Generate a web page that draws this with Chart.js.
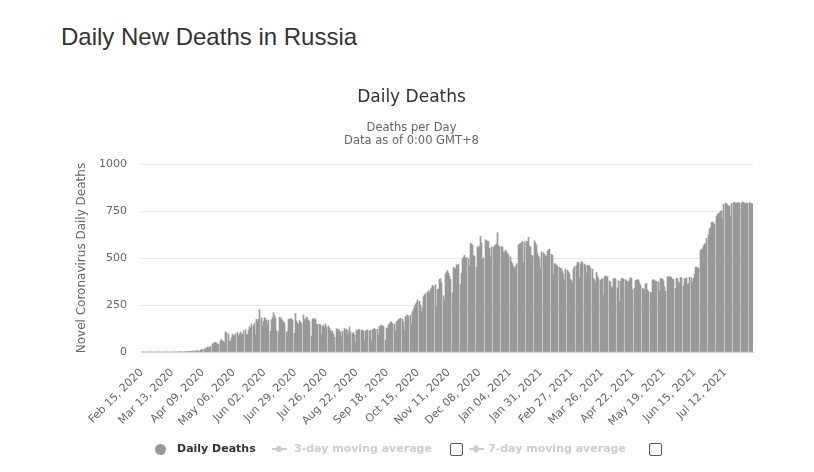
<!DOCTYPE html>
<html>
<head>
<meta charset="utf-8">
<title>Daily New Deaths in Russia</title>
<script src="https://cdn.jsdelivr.net/npm/chart.js@4.4.1/dist/chart.umd.min.js"></script>
<style>
  html, body { margin: 0; padding: 0; background: #fff; }
  #page { position: relative; width: 814px; height: 472px; overflow: hidden; }
  #pageTitle { position: absolute; left: 61px; top: 25px; font: 24px "Liberation Sans", Arial, sans-serif; line-height: 24px; color: #333; white-space: nowrap; }
  #chart { position: absolute; left: 0; top: 0; }
  .lg { position: absolute; top: 442px; font: bold 11px "DejaVu Sans", sans-serif; line-height: 14px; white-space: nowrap; }
  .off { color: #ccc; }
  .dot { position: absolute; left: 155px; top: 444px; width: 11px; height: 11px; border-radius: 50%; background: #999; }
  .ln { position: absolute; top: 448px; width: 15px; height: 2px; background: #ccc; }
  .mk { position: absolute; width: 6px; height: 6px; background: #ccc; }
  .box { position: absolute; top: 443px; width: 11px; height: 11px; border: 1px solid #555; border-radius: 2px; background: #fff; }
</style>
</head>
<body>
<div id="page">
  <div id="pageTitle">Daily New Deaths in Russia</div>
  <canvas id="chart" width="814" height="472"></canvas>

  <!-- legend -->
  <div class="dot"></div>
  <div class="lg" style="left:177px;color:#333;">Daily Deaths</div>
  <div class="ln" style="left:272px;"></div>
  <div class="mk" style="left:276px;top:446px;border-radius:50%;"></div>
  <div class="lg off" style="left:294px;">3-day moving average</div>
  <div class="box" style="left:450px;"></div>
  <div class="ln" style="left:469px;"></div>
  <div class="mk" style="left:473px;top:446px;transform:rotate(45deg);"></div>
  <div class="lg off" style="left:488px;">7-day moving average</div>
  <div class="box" style="left:649px;"></div>
</div>

<script>
// first day shown on the axis (UTC)
const startDate = Date.UTC(2020, 1, 15);
const monthNames = ['Jan', 'Feb', 'Mar', 'Apr', 'May', 'Jun', 'Jul', 'Aug', 'Sep', 'Oct', 'Nov', 'Dec'];
const tickEvery = 27; // a date label every 27 days

// daily deaths, Feb 15 2020 .. Aug 05 2021
const dailyDeaths = [
  // Feb 15-29, 2020
  0, 0, 0, 0, 0, 0, 0, 0, 0, 0, 0, 0, 0, 0, 0,
  // Mar 2020
  0, 0, 0, 0, 0, 0, 0, 0, 0, 0, 0, 0, 0, 0, 0, 0, 0, 0, 1, 0, 0, 0, 0, 0, 1, 1, 1, 0, 2, 1, 2,
  // Apr 2020
  7, 7, 4, 9, 2, 2, 11, 13, 12, 18, 12, 22, 24, 22, 28, 28, 41, 48, 48, 51, 48, 44, 42, 60, 66, 57, 57, 50, 108, 101,
  // May 2020
  95, 57, 58, 76, 95, 86, 88, 98, 104, 88, 94, 107, 96, 93, 113, 119, 94, 91, 115, 135, 127, 150, 139, 153, 92, 174, 161, 174, 225, 181, 138,
  // Jun 2020
  162, 182, 178, 169, 144, 170, 110, 171, 182, 209, 196, 181, 113, 108, 185, 182, 176, 168, 161, 155, 104, 109, 174, 172, 178, 176, 170, 100, 205, 165,
  // Jul 2020
  154, 147, 168, 160, 152, 197, 173, 174, 186, 180, 168, 162, 85, 175, 178, 172, 176, 150, 146, 148, 145, 95, 135, 142, 128, 150, 132, 138, 126, 115, 105,
  // Aug 2020
  112, 95, 78, 124, 118, 121, 114, 104, 80, 110, 125, 118, 121, 114, 96, 135, 108, 98, 104, 92, 50, 117, 112, 118, 120, 115, 117, 112, 65, 110, 116,
  // Sep 2020
  117, 112, 115, 60, 118, 122, 125, 119, 121, 90, 136, 140, 143, 138, 135, 64, 128, 125, 145, 150, 158, 161, 152, 148, 110, 160, 165, 172, 176, 179,
  // Oct 2020
  175, 160, 117, 188, 192, 197, 190, 195, 150, 214, 226, 241, 255, 262, 277, 270, 250, 215, 238, 294, 302, 310, 318, 325, 314, 330, 341, 355, 350, 358, 241,
  // Nov 2020
  332, 335, 387, 390, 369, 300, 277, 414, 425, 433, 420, 405, 387, 314, 451, 446, 442, 464, 460, 466, 360, 420, 496, 505, 515, 500, 502, 498, 460, 578,
  // Dec 2020
  575, 569, 515, 508, 451, 560, 555, 562, 615, 580, 496, 500, 597, 592, 590, 588, 551, 505, 560, 558, 565, 570, 575, 635, 566, 560, 562, 558, 533, 530, 542,
  // Jan 2021
  535, 524, 518, 506, 480, 470, 455, 442, 455, 470, 570, 575, 578, 580, 588, 478, 585, 590, 588, 610, 565, 558, 515, 512, 591, 580, 569, 524, 510, 496, 442,
  // Feb 2021
  533, 528, 520, 512, 506, 537, 545, 548, 520, 515, 414, 470, 469, 462, 455, 451, 445, 442, 430, 414, 378, 442, 435, 425, 414, 387, 380, 369,
  // Mar 2021
  442, 455, 460, 478, 476, 396, 470, 482, 475, 468, 460, 420, 462, 458, 460, 448, 442, 390, 385, 369, 423, 405, 392, 380, 387, 390, 300, 400, 405, 398, 402,
  // Apr 2021
  378, 372, 348, 342, 388, 392, 390, 341, 380, 268, 375, 390, 392, 388, 385, 378, 376, 370, 385, 396, 392, 332, 340, 380, 383, 385, 383, 369, 355, 340,
  // May 2021
  335, 332, 362, 365, 330, 322, 318, 314, 383, 385, 380, 376, 375, 372, 323, 390, 392, 388, 378, 350, 323, 400, 398, 402, 400, 396, 388, 386, 338, 392, 390,
  // Jun 2021
  372, 368, 397, 395, 352, 390, 392, 394, 361, 365, 397, 395, 372, 392, 415, 451, 452, 450, 445, 541, 546, 550, 565, 572, 578, 605, 623, 655, 662, 688,
  // Jul 2021
  692, 685, 680, 722, 733, 737, 740, 749, 752, 715, 786, 792, 790, 782, 779, 776, 722, 790, 796, 795, 793, 792, 794, 797, 790, 793, 795, 798, 791, 789, 793,
  // Aug 2021
  790, 795, 792, 789, 790
];

const yTicks = [0, 250, 500, 750, 1000];

const categories = dailyDeaths.map((_, i) => {
  const d = new Date(startDate + i * 86400000);
  const day = String(d.getUTCDate()).padStart(2, '0');
  return `${monthNames[d.getUTCMonth()]} ${day}, ${d.getUTCFullYear()}`;
});

// snap every column to a whole pixel, one pixel wide (like the crisp columns of the original)
const crispColumns = {
  id: 'crispColumns',
  beforeDatasetsDraw(chart) {
    chart.getDatasetMeta(0).data.forEach(bar => {
      bar.x = Math.round(bar.x - 0.5) + 0.5;
      bar.width = 1;
    });
  }
};

Chart.defaults.font.family = '"DejaVu Sans", Verdana, sans-serif';
Chart.defaults.color = '#666';

new Chart(document.getElementById('chart'), {
  type: 'bar',
  data: {
    labels: categories,
    datasets: [{
      label: 'Daily Deaths',
      data: dailyDeaths,
      backgroundColor: '#999999',
      borderWidth: 0,
      barPercentage: 1,
      categoryPercentage: 1
    }]
  },
  options: {
    responsive: false,
    animation: false,
    devicePixelRatio: 1,
    layout: { padding: { left: 70, right: 61, top: 0, bottom: 0 } },
    plugins: {
      legend: { display: false },
      tooltip: { enabled: false },
      title: {
        display: true,
        text: 'Daily Deaths',
        color: '#333',
        font: { size: 17, weight: 'normal' },
        padding: { top: 87, bottom: 0 }
      },
      subtitle: {
        display: true,
        text: ['Deaths per Day', 'Data as of 0:00 GMT+8'],
        color: '#666',
        font: { size: 11.5, lineHeight: 1.16 },
        padding: { top: 13.6, bottom: 16.4 }
      }
    },
    scales: {
      x: {
        grid: { display: false },
        border: { display: true, color: '#ccd6eb', width: 1 },
        ticks: {
          autoSkip: false,
          minRotation: 45,
          maxRotation: 45,
          padding: 6,
          color: '#666',
          font: { size: 11 },
          callback(value, index) {
            return index % tickEvery === 0 ? categories[index] : '';
          }
        },
        afterFit(scale) { scale.height = 120; }
      },
      y: {
        min: 0,
        max: 1000,
        afterBuildTicks(scale) { scale.ticks = yTicks.map(v => ({ value: v })); },
        grid: {
          drawTicks: false,
          color: ctx => (ctx.tick && ctx.tick.value === 0 ? '#ccd6eb' : '#e6e6e6')
        },
        border: { display: false },
        ticks: {
          padding: 14,
          color: '#666',
          font: { size: 11 },
          callback: value => String(value)
        },
        title: {
          display: true,
          text: 'Novel Coronavirus Daily Deaths',
          color: '#666',
          font: { size: 12 },
          padding: { top: 5, bottom: 0 }
        },
        afterFit(scale) { scale.width = 71; }
      }
    }
  },
  plugins: [crispColumns]
});
</script>
</body>
</html>
